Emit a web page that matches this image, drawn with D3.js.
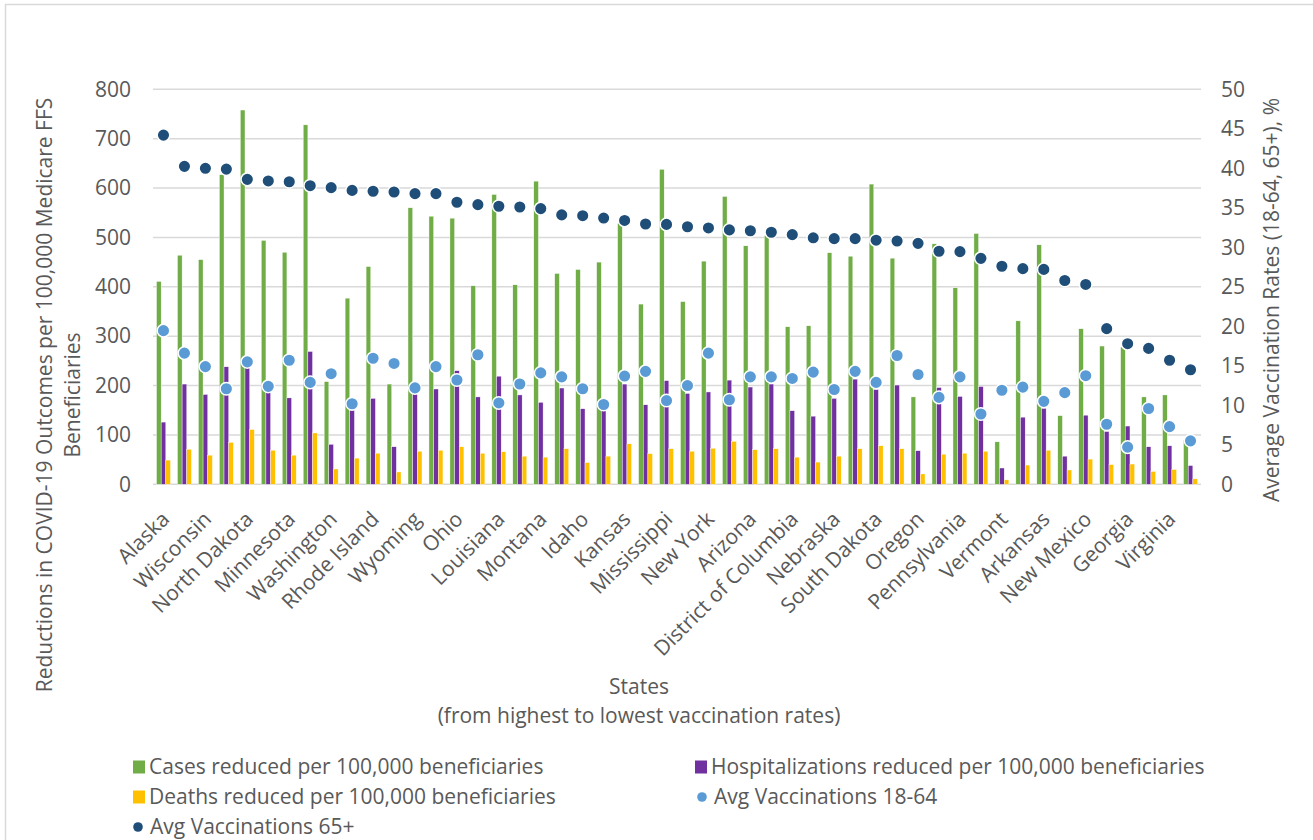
<!DOCTYPE html>
<html><head><meta charset="utf-8">
<script src="https://cdn.jsdelivr.net/npm/d3@7/dist/d3.min.js"></script>
<style>
body{margin:0;background:#fff}
svg{display:block}
text{font-family:"Open Sans",sans-serif;fill:#595959}
</style>
</head><body>
<svg id="chart" width="1313" height="840"></svg>
<script>
// ---- data ----
const states = ["Alaska","Iowa","Wisconsin","Maine","North Dakota","West Virginia","Minnesota","Kentucky","Washington","Michigan",
  "Rhode Island","New Hampshire","Wyoming","Indiana","Ohio","Tennessee","Louisiana","Oklahoma","Montana","Missouri",
  "Idaho","Utah","Kansas","Alabama","Mississippi","South Carolina","New York","Texas","Arizona","North Carolina",
  "District of Columbia","Illinois","Nebraska","Colorado","South Dakota","Delaware","Oregon","Nevada","Pennsylvania","Maryland",
  "Vermont","Connecticut","Arkansas","California","New Mexico","New Jersey","Georgia","Massachusetts","Virginia","Florida"];
const cases = [411,464,455,627,758,494,470,728,208,377,441,203,560,543,539,402,587,404,614,427,
  435,450,529,365,638,370,452,583,483,504,319,321,469,462,608,458,177,487,398,508,
  86,331,485,139,315,280,278,177,181,90];
const hospitalizations = [126,203,182,238,236,188,175,269,81,150,174,76,185,193,230,177,219,181,166,195,
  153,150,203,161,210,184,187,211,197,203,149,138,174,213,192,201,68,196,178,198,
  33,136,154,57,140,107,118,76,78,38];
const deaths = [49,71,59,85,111,69,59,104,31,53,63,25,67,69,76,63,66,57,55,72,
  44,57,82,62,72,67,73,87,70,72,55,45,57,72,78,72,21,61,63,67,
  9,39,69,29,51,40,41,26,30,11];
const vacc1864 = [19.45,16.6,14.9,12.1,15.5,12.4,15.7,12.9,14.0,10.2,15.95,15.3,12.2,14.9,13.2,16.4,10.3,12.7,14.1,13.6,
  12.1,10.1,13.7,14.3,10.6,12.5,16.6,10.7,13.6,13.6,13.4,14.2,12.0,14.3,12.9,16.3,13.9,11.0,13.6,8.9,
  11.9,12.3,10.5,11.6,13.75,7.6,4.7,9.6,7.3,5.5];
const vacc65 = [44.2,40.25,40.0,39.9,38.6,38.4,38.3,37.8,37.55,37.2,37.1,37.0,36.8,36.8,35.7,35.4,35.2,35.1,34.9,34.1,
  34.0,33.7,33.4,32.95,32.9,32.6,32.45,32.2,32.1,31.9,31.6,31.2,31.1,31.1,30.9,30.8,30.5,29.5,29.45,28.6,
  27.6,27.3,27.2,25.8,25.3,19.7,17.8,17.2,15.7,14.5];
const leftTicks = [0,100,200,300,400,500,600,700,800];
const rightTicks = [0,5,10,15,20,25,30,35,40,45,50];
const barSeries = ["Cases reduced per 100,000 beneficiaries","Hospitalizations reduced per 100,000 beneficiaries","Deaths reduced per 100,000 beneficiaries"];
const dotSeries = ["Avg Vaccinations 18-64","Avg Vaccinations 65+"];
const colors = {cases:"#70AD47", hosp:"#7030A0", deaths:"#FFC000", v1864:"#5B9BD5", v65:"#1F4E79"};

// ---- layout ----
const FS = "21px";
const plot = {left:153, right:1201, top:89.3, bottom:484.3};
const svg = d3.select("#chart");

svg.append("rect").attr("x",5.5).attr("y",4.5).attr("width",1400).attr("height",900)
  .attr("fill","none").attr("stroke","#d9d9d9").attr("stroke-width",1.5);

const x = d3.scaleBand().domain(states).range([plot.left, plot.right]).paddingInner(0).paddingOuter(0);
const keys = ["cases","hosp","deaths"];
const xs = d3.scaleBand().domain(keys).range([0, x.bandwidth()]).paddingInner(0).paddingOuter(0.75);
const yL = d3.scaleLinear().domain([0,800]).range([plot.bottom, plot.top]);
const yR = d3.scaleLinear().domain([0,50]).range([plot.bottom, plot.top]);

// gridlines
svg.append("g").selectAll("line").data(leftTicks).join("line")
  .attr("x1",plot.left).attr("x2",plot.right)
  .attr("y1",d=>yL(d)).attr("y2",d=>yL(d))
  .attr("stroke","#d9d9d9").attr("stroke-width",1.5);

// left axis
const gL = svg.append("g").attr("transform","translate(131,0)")
  .call(d3.axisLeft(yL).tickValues(leftTicks).tickSize(0).tickPadding(0));
gL.select(".domain").remove();
gL.selectAll("text").style("font-size",FS).style("font-family","'Open Sans',sans-serif").attr("fill","#595959");

// right axis
const gR = svg.append("g").attr("transform","translate(1221,0)")
  .call(d3.axisRight(yR).tickValues(rightTicks).tickSize(0).tickPadding(0));
gR.select(".domain").remove();
gR.selectAll("text").style("font-size",FS).style("font-family","'Open Sans',sans-serif").attr("fill","#595959");

// bottom axis (every other state label)
const gB = svg.append("g").attr("transform",`translate(0,${plot.bottom})`)
  .call(d3.axisBottom(x).tickValues(states.filter((d,i)=>i%2===0)).tickSize(0).tickPadding(0));
gB.select(".domain").remove();
gB.selectAll("text")
  .style("font-size",FS).style("font-family","'Open Sans',sans-serif").attr("fill","#595959")
  .attr("x",0).attr("y",0).attr("dy","0.35em")
  .attr("transform","translate(2,31) rotate(-45)")
  .style("text-anchor","end");

// bars
const rows = states.map((s,i)=>({state:s, cases:cases[i], hosp:hospitalizations[i], deaths:deaths[i]}));
const grp = svg.append("g").selectAll("g").data(rows).join("g")
  .attr("transform",d=>`translate(${x(d.state)},0)`);
grp.selectAll("rect").data(d=>keys.map(k=>({k, v:d[k]}))).join("rect")
  .attr("x",d=>xs(d.k)).attr("width",xs.bandwidth())
  .attr("y",d=>yL(d.v)).attr("height",d=>plot.bottom-yL(d.v))
  .attr("fill",d=>colors[d.k]).attr("stroke","#fff").attr("stroke-width",0.4);

// dots
const cx = s => x(s)+x.bandwidth()/2;
svg.append("g").selectAll("circle").data(states).join("circle")
  .attr("cx",d=>cx(d)).attr("cy",(d,i)=>yR(vacc1864[i])).attr("r",6.3)
  .attr("fill",colors.v1864).attr("stroke","#fff").attr("stroke-width",1.5);
svg.append("g").selectAll("circle").data(states).join("circle")
  .attr("cx",d=>cx(d)).attr("cy",(d,i)=>yR(vacc65[i])).attr("r",6.3)
  .attr("fill",colors.v65).attr("stroke","#fff").attr("stroke-width",1.5);

// axis titles
const tl = svg.append("g").attr("transform","translate(0,395) rotate(-90)");
tl.append("text").attr("x",0).attr("y",52).attr("text-anchor","middle").style("font-size",FS)
  .text("Reductions in COVID-19 Outcomes per 100,000 Medicare FFS");
tl.append("text").attr("x",0).attr("y",80).attr("text-anchor","middle").style("font-size",FS)
  .text("Beneficiaries");
svg.append("text").attr("transform","translate(1279,300) rotate(-90)").attr("text-anchor","middle")
  .style("font-size",FS).text("Average Vaccination Rates (18-64, 65+), %");
svg.append("text").attr("x",639).attr("y",694).attr("text-anchor","middle").style("font-size",FS).text("States");
svg.append("text").attr("x",639).attr("y",723).attr("text-anchor","middle").style("font-size",FS)
  .text("(from highest to lowest vaccination rates)");

// legend
const legend = [
  {label:barSeries[0], type:"rect", color:colors.cases, x:133, y:767},
  {label:barSeries[1], type:"rect", color:colors.hosp, x:695, y:767},
  {label:barSeries[2], type:"rect", color:colors.deaths, x:133, y:797},
  {label:dotSeries[0], type:"circle", color:colors.v1864, x:697, y:797},
  {label:dotSeries[1], type:"circle", color:colors.v65, x:133, y:827}
];
const lg = svg.append("g").selectAll("g").data(legend).join("g")
  .attr("transform",d=>`translate(${d.x},${d.y})`);
lg.filter(d=>d.type==="rect").append("rect").attr("x",0).attr("y",-6.5).attr("width",12).attr("height",13).attr("fill",d=>d.color);
lg.filter(d=>d.type==="circle").append("circle").attr("cx",5).attr("cy",0).attr("r",4.8).attr("fill",d=>d.color);
lg.append("text").attr("x",d=>d.type==="rect"?16:17).attr("y",0).attr("dy","0.35em").style("font-size",FS).text(d=>d.label);
</script>
</body></html>
